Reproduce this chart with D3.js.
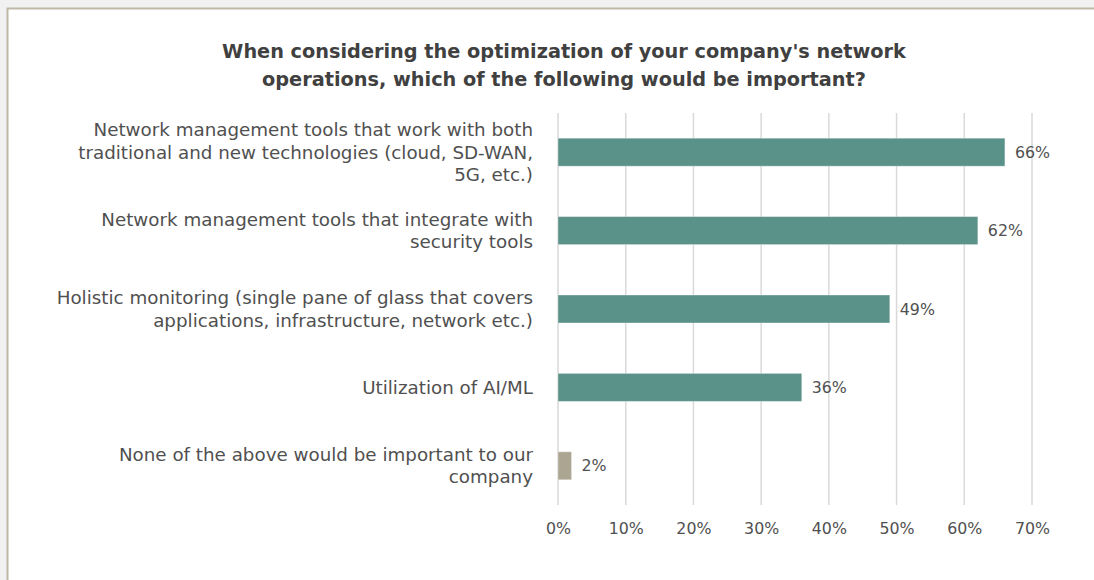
<!DOCTYPE html>
<html><head><meta charset="utf-8">
<script src="https://cdn.jsdelivr.net/npm/d3@7"></script>
<style>
html,body{margin:0;padding:0;background:#f1f1f1;overflow:hidden;}
svg{display:block;}
</style></head>
<body>
<svg id="chart" width="1094" height="580"></svg>
<script>
const categories = [
  ["Network management tools that work with both", "traditional and new technologies (cloud, SD-WAN,", "5G, etc.)"],
  ["Network management tools that integrate with", "security tools"],
  ["Holistic monitoring (single pane of glass that covers", "applications, infrastructure, network etc.)"],
  ["Utilization of AI/ML"],
  ["None of the above would be important to our", "company"]
];
const values = [66, 62, 49, 36, 2];
const barColors = ["#5a9189", "#5a9189", "#5a9189", "#5a9189", "#aba592"];
const ticks = [0, 10, 20, 30, 40, 50, 60, 70];
const titleLines = ["When considering the optimization of your company's network", "operations, which of the following would be important?"];

const svg = d3.select("#chart");
const font = "'DejaVu Sans', sans-serif";
const titleColor = "#404040";
const textColor = "#505050";

svg.append("rect").attr("x", 0).attr("y", 0).attr("width", 1094).attr("height", 580).attr("fill", "#f1f1f1");
svg.append("rect").attr("x", 7.5).attr("y", 8.5).attr("width", 1100).attr("height", 600)
  .attr("fill", "#ffffff").attr("stroke", "#bdb9a6").attr("stroke-width", 2);

const x = d3.scaleLinear().domain([0, 70]).range([558, 1032]);
const y = d3.scaleBand().domain(d3.range(categories.length)).range([113, 505]).paddingInner(0.643).paddingOuter(0.3215);

svg.append("g").selectAll("line").data(ticks).join("line")
  .attr("x1", d => x(d)).attr("x2", d => x(d))
  .attr("y1", 113).attr("y2", 505)
  .attr("stroke", "#d9d9d9").attr("stroke-width", 1.5);

svg.append("text").attr("x", 564).attr("y", 58).attr("text-anchor", "middle")
  .attr("font-family", font).attr("font-weight", "bold").attr("font-size", 19.3).attr("fill", titleColor)
  .selectAll("tspan").data(titleLines).join("tspan")
  .attr("x", 564).attr("dy", (d, i) => i === 0 ? 0 : 28).text(d => d);

svg.append("g").selectAll("rect").data(values).join("rect")
  .attr("x", x(0)).attr("y", (d, i) => y(i))
  .attr("width", d => x(d) - x(0)).attr("height", y.bandwidth())
  .attr("fill", (d, i) => barColors[i])
  .attr("stroke", "#ffffff").attr("stroke-opacity", 0.35).attr("stroke-width", 1);

svg.append("g").selectAll("text").data(values).join("text")
  .attr("x", d => x(d) + 10).attr("y", (d, i) => y(i) + y.bandwidth() / 2)
  .attr("dy", "0.35em")
  .attr("font-family", font).attr("font-size", 15.8).attr("fill", textColor)
  .text(d => d + "%");

const lh = 22.5;
svg.append("g").selectAll("text").data(categories).join("text")
  .attr("text-anchor", "end")
  .attr("font-family", font).attr("font-size", 18.3).attr("fill", textColor)
  .each(function(lines, i) {
    const cy = y(i) + y.bandwidth() / 2;
    const start = cy - (lines.length - 1) * lh / 2;
    d3.select(this).selectAll("tspan").data(lines).join("tspan")
      .attr("x", 533).attr("y", (d, j) => start + j * lh).attr("dy", "0.35em").text(d => d);
  });

const axis = d3.axisBottom(x).tickValues(ticks).tickFormat(d => d + "%").tickSize(0).tickPadding(0);
const ag = svg.append("g").attr("transform", "translate(0,523)").call(axis);
ag.select(".domain").remove();
ag.selectAll("text").attr("font-family", font).attr("font-size", 15.8).attr("fill", textColor).attr("dy", "0.71em");
</script>
</body></html>
